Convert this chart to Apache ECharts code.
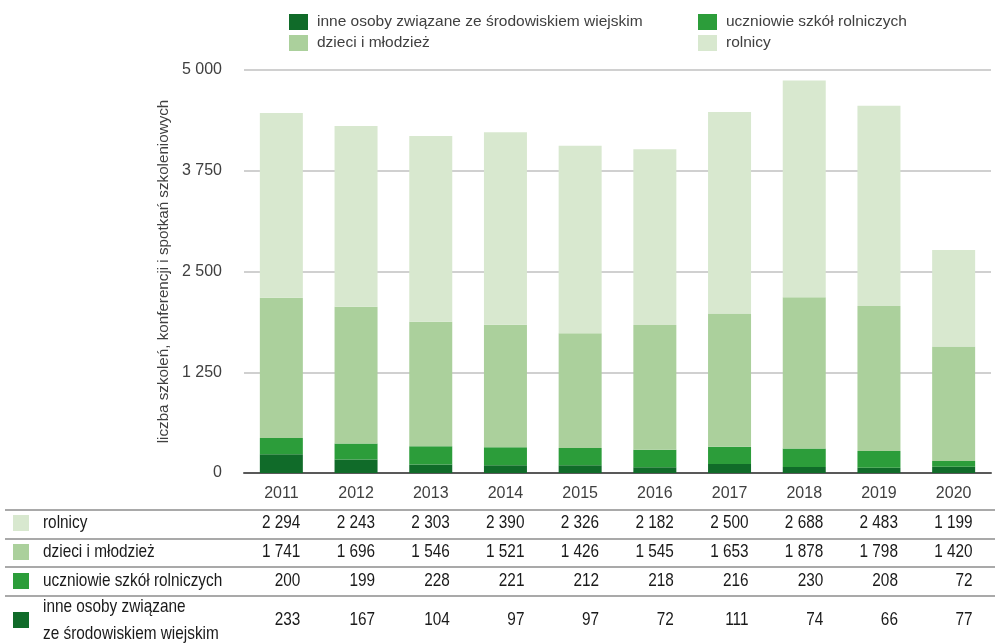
<!DOCTYPE html>
<html><head><meta charset="utf-8">
<script src="https://cdn.jsdelivr.net/npm/echarts@6/dist/echarts.min.js"></script>
<style>html,body{margin:0;padding:0;background:#fff}#c{width:995px;height:643px}</style>
</head><body><div id="c"></div>
<script>
var years = ['2011','2012','2013','2014','2015','2016','2017','2018','2019','2020'];
var rolnicy = [2294,2243,2303,2390,2326,2182,2500,2688,2483,1199];
var dzieci = [1741,1696,1546,1521,1426,1545,1653,1878,1798,1420];
var uczniowie = [200,199,228,221,212,218,216,230,208,72];
var inne = [233,167,104,97,97,72,111,74,66,77];
var yTicks = [0,1250,2500,3750,5000];

var FONT = '"Liberation Sans", Arial, sans-serif';
var colors = {inne:'#106b29', ucz:'#2c9d3a', dzieci:'#abd09c', rol:'#d8e8cf'};
function fmt(v){return String(v).replace(/\B(?=(\d{3})+(?!\d))/g,' ');}

var chart = echarts.init(document.getElementById('c'), null, {renderer:'canvas'});
var names = {inne:'inne osoby związane ze środowiskiem wiejskim', ucz:'uczniowie szkół rolniczych', dzieci:'dzieci i młodzież', rol:'rolnicy'};
function bar(name, data, color){
  return {name:name, type:'bar', stack:'s', data:data, barWidth:43, itemStyle:{color:color}, emphasis:{disabled:true}};
}
var option = {
  animation:false,
  textStyle:{fontFamily:FONT},
  grid:{left:244, top:70, width:747, height:403, containLabel:false},
  legend:[{
    orient:'vertical', left:284, top:9, itemWidth:19, itemHeight:16, itemGap:5,
    icon:'rect', data:[names.inne, names.dzieci],
    textStyle:{fontFamily:FONT, fontSize:15.5, color:'#404040', padding:[0,0,0,4]}
  },{
    orient:'vertical', left:693, top:9, itemWidth:19, itemHeight:16, itemGap:5,
    icon:'rect', data:[names.ucz, names.rol],
    textStyle:{fontFamily:FONT, fontSize:15.5, color:'#404040', padding:[0,0,0,4]}
  }],
  xAxis:{type:'category', data:years,
    axisLine:{lineStyle:{color:'#595959', width:2}}, axisTick:{show:false},
    axisLabel:{fontFamily:FONT, fontSize:16, color:'#404040', margin:13}},
  yAxis:{type:'value', min:yTicks[0], max:yTicks[yTicks.length-1], interval:yTicks[1]-yTicks[0],
    name:'liczba szkoleń, konferencji i spotkań szkoleniowych', nameLocation:'middle', nameGap:64, nameRotate:90,
    nameTextStyle:{fontFamily:FONT, fontSize:15.2, color:'#404040'},
    axisLine:{show:false}, axisTick:{show:false},
    axisLabel:{fontFamily:FONT, fontSize:16, color:'#404040', margin:22, formatter:function(v){return fmt(v);}},
    splitLine:{lineStyle:{color:'#c0c0c0', width:1.5}}},
  series:[bar(names.inne, inne, colors.inne), bar(names.ucz, uczniowie, colors.ucz), bar(names.dzieci, dzieci, colors.dzieci), bar(names.rol, rolnicy, colors.rol)]
};
chart.setOption(option);

// table below chart
var rows = [
  {label:'rolnicy', data:rolnicy, color:colors.rol, y:523},
  {label:'dzieci i młodzież', data:dzieci, color:colors.dzieci, y:552},
  {label:'uczniowie szkół rolniczych', data:uczniowie, color:colors.ucz, y:581},
  {label:'inne osoby związane\nze środowiskiem wiejskim', data:inne, color:colors.inne, y:620}
];
var lineYs = [510, 539, 567, 596];
var g = [];
var SX = 0.83;
lineYs.forEach(function(y){
  g.push({type:'line', shape:{x1:5, y1:y, x2:995, y2:y}, style:{stroke:'#8c8c8c', lineWidth:1.5}, silent:true});
});
rows.forEach(function(r){
  g.push({type:'rect', shape:{x:13, y:r.y-8, width:16, height:16}, style:{fill:r.color}, silent:true});
  g.push({type:'text', x:43, y:r.y, scaleX:SX, style:{text:r.label, font:'18.5px '+FONT, fill:'#1a1a1a', verticalAlign:'middle', textVerticalAlign:'middle', lineHeight:27}, silent:true});
  r.data.forEach(function(v, i){
    var px = chart.convertToPixel({xAxisIndex:0}, years[i]);
    g.push({type:'text', x:px+19, y:r.y, scaleX:SX, style:{text:fmt(v), font:'18.5px '+FONT, fill:'#1a1a1a', align:'right', textAlign:'right', verticalAlign:'middle', textVerticalAlign:'middle'}, silent:true});
  });
});
chart.setOption({graphic:g});
</script></body></html>
